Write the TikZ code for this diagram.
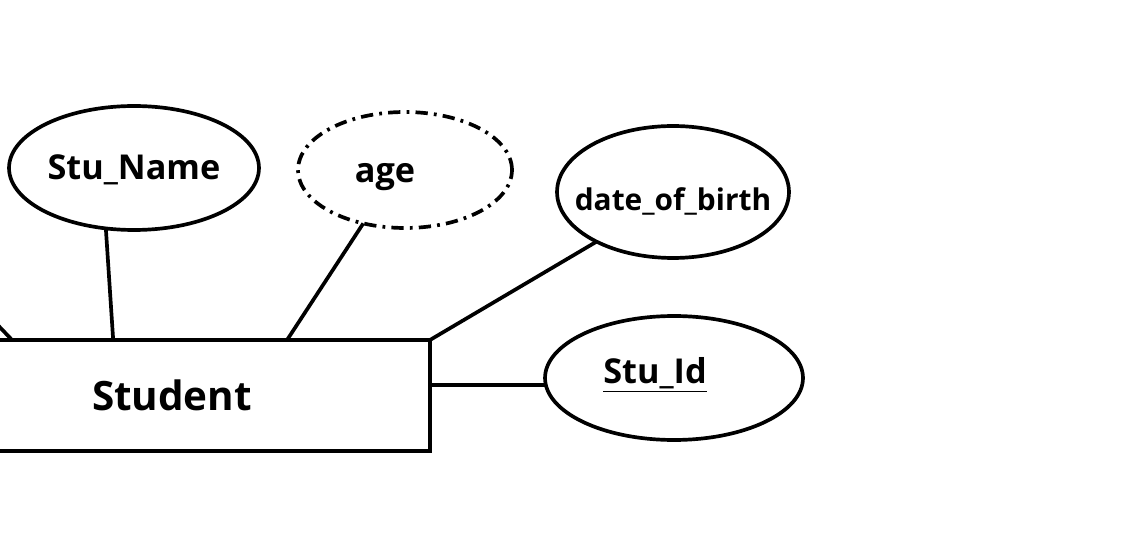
\documentclass[tikz,border=0pt]{standalone}
\usepackage{fontspec}
\setmainfont{Open Sans}
\usepackage{tikz}
\usetikzlibrary{shapes.geometric,positioning,calc}

\begin{document}
\begin{tikzpicture}[x=0.02cm,y=-0.02cm,line width=2.1pt,
	attr/.style={ellipse,draw,inner sep=0pt,outer sep=0pt},
	entity/.style={rectangle,draw,inner sep=0pt,outer sep=0pt,minimum width=10.32cm,minimum height=2.22cm},
	lbl/.style={font=\bfseries\fontsize{19.5}{22}\selectfont}]
	\useasboundingbox (0,0) rectangle (1132,550);
	\node[entity,label={[font=\bfseries\fontsize{23}{26}\selectfont]center:Student}] (student) at (172,395.5) {};
	\node[attr,minimum width=5cm,minimum height=2.48cm,label={[lbl,yshift=-0.04cm]center:Stu\_Name}] (sname) at (134,168) {};
	\node[attr,dash pattern=on 7pt off 3.5pt on 1.6pt off 3.5pt,minimum width=4.28cm,minimum height=2.32cm,label={[lbl,xshift=-0.4cm,yshift=-0.14cm]center:age}] (age) at (405,170) {};
	\node[attr,minimum width=4.64cm,minimum height=2.64cm,label={[lbl,font=\bfseries\fontsize{17}{20}\selectfont,yshift=-0.18cm]center:date\_of\_birth}] (dob) at (673,192) {};
	\node[attr,minimum width=5.16cm,minimum height=2.48cm,label={[lbl,xshift=-0.38cm,yshift=0.06cm]center:\underline{Stu\_Id}}] (sid) at (674,378) {};
	\coordinate (offleft) at (-50,275);
	% links to the entity
	\draw (offleft) -- ($(student.north west)!0.19!(student.north east)$);
	\draw (sname.245) -- ($(student.north west)!0.386!(student.north east)$);
	\draw (age.232) -- ($(student.north west)!0.723!(student.north east)$);
	\draw (dob.213) -- (student.north east);
	\draw (sid.183) -- (sid.183 -| student.east);
\end{tikzpicture}
\end{document}
